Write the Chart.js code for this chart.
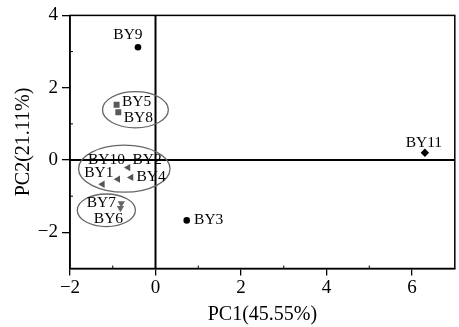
<!DOCTYPE html>
<html>
<head>
<meta charset="utf-8">
<script src="https://cdn.jsdelivr.net/npm/chart.js@4.4.1/dist/chart.umd.min.js"></script>
<style>
  html, body { margin: 0; padding: 0; background: #fff; }
  #wrap { width: 459px; height: 327px; position: relative; }
</style>
</head>
<body>
<div id="wrap"><canvas id="c" width="459" height="327"></canvas></div>
<script>
// ---- data ----
const circleNames = ['BY9', 'BY3'];
const circleX = [-0.41, 0.73];
const circleY = [3.12, -1.67];

const squareNames = ['BY5', 'BY8'];
const squareX = [-0.91, -0.87];
const squareY = [1.53, 1.32];

const leftTriNames = ['BY2', 'BY4', 'BY1', 'BY10'];
const leftTriX = [-0.64, -0.57, -0.88, -1.24];
const leftTriY = [-0.21, -0.48, -0.53, -0.67];

const downTriNames = ['BY7', 'BY6'];
const downTriX = [-0.80, -0.82];
const downTriY = [-1.20, -1.33];

const diamondNames = ['BY11'];
const diamondX = [6.30];
const diamondY = [0.20];

// group ellipses (data units)
const ellipseCx = [-0.47, -0.73, -1.15];
const ellipseCy = [1.39, -0.24, -1.39];
const ellipseRx = [0.77, 1.07, 0.68];
const ellipseRy = [0.50, 0.65, 0.45];

const xTicks = [-2, 0, 2, 4, 6];
const yTicks = [-2, 0, 2, 4];
const xMinor = [-1, 1, 3, 5];
const yMinor = [-1, 1, 3];
const xTitle = 'PC1(45.55%)';
const yTitle = 'PC2(21.11%)';

// ---- styling: label offsets (px) ----
const labelOffsets = {
  BY9: [-10, -12], BY3: [22, 0], BY5: [20, -3], BY8: [20, 6],
  BY2: [19, -8], BY4: [20, 0], BY1: [-19, -6], BY10: [4, -24],
  BY7: [-20, 0], BY6: [-12, 11], BY11: [-1, -10]
};

const SERIF = '"Liberation Serif", "Times New Roman", serif';

function pts(names, xs, ys) {
  return names.map((n, i) => ({ x: xs[i], y: ys[i], name: n }));
}

const fmt = v => (v < 0 ? '\u2212' + Math.abs(v) : String(v));

const decor = {
  id: 'decor',
  beforeDatasetsDraw(chart) {
    const { ctx, chartArea: a, scales: { x, y } } = chart;
    ctx.save();
    ctx.strokeStyle = '#000';
    // frame
    ctx.lineWidth = 1.5;
    ctx.strokeRect(a.left, a.top, a.right - a.left, a.bottom - a.top);
    // zero lines
    ctx.lineWidth = 2;
    const x0 = x.getPixelForValue(0), y0 = y.getPixelForValue(0);
    ctx.beginPath();
    ctx.moveTo(x0, a.top); ctx.lineTo(x0, a.bottom);
    ctx.moveTo(a.left, y0); ctx.lineTo(a.right, y0);
    ctx.stroke();
    // minor ticks inward
    ctx.lineWidth = 1;
    ctx.beginPath();
    xMinor.forEach(v => {
      const px = x.getPixelForValue(v);
      ctx.moveTo(px, a.bottom); ctx.lineTo(px, a.bottom - 3);
    });
    yMinor.forEach(v => {
      const py = y.getPixelForValue(v);
      ctx.moveTo(a.left, py); ctx.lineTo(a.left + 3, py);
    });
    ctx.stroke();
    // ellipses
    ctx.strokeStyle = '#666';
    ctx.lineWidth = 1.3;
    ellipseCx.forEach((cx, i) => {
      const px = x.getPixelForValue(cx), py = y.getPixelForValue(ellipseCy[i]);
      const rx = Math.abs(x.getPixelForValue(cx + ellipseRx[i]) - px);
      const ry = Math.abs(y.getPixelForValue(ellipseCy[i] + ellipseRy[i]) - py);
      ctx.beginPath();
      ctx.ellipse(px, py, rx, ry, 0, 0, Math.PI * 2);
      ctx.stroke();
    });
    ctx.restore();
  },
  afterDatasetsDraw(chart) {
    const { ctx } = chart;
    ctx.save();
    ctx.fillStyle = '#000';
    ctx.font = '15.5px ' + SERIF;
    ctx.textAlign = 'center';
    ctx.textBaseline = 'middle';
    chart.data.datasets.forEach((ds, di) => {
      const meta = chart.getDatasetMeta(di);
      meta.data.forEach((el, i) => {
        const n = ds.data[i].name;
        const off = labelOffsets[n] || [0, 0];
        ctx.fillText(n, el.x + off[0], el.y + off[1]);
      });
    });
    ctx.restore();
  }
};

new Chart(document.getElementById('c'), {
  type: 'scatter',
  data: {
    datasets: [
      { data: pts(circleNames, circleX, circleY), pointStyle: 'circle', pointRadius: 3.3,
        backgroundColor: '#000', borderColor: '#000', borderWidth: 0 },
      { data: pts(squareNames, squareX, squareY), pointStyle: 'rect', pointRadius: 4.2,
        backgroundColor: '#5a5a5a', borderColor: '#5a5a5a', borderWidth: 0 },
      { data: pts(leftTriNames, leftTriX, leftTriY), pointStyle: 'triangle', pointRadius: 4.2, rotation: 270,
        backgroundColor: '#555', borderColor: '#555', borderWidth: 0 },
      { data: pts(downTriNames, downTriX, downTriY), pointStyle: 'triangle', pointRadius: 4.2, rotation: 180,
        backgroundColor: '#666', borderColor: '#666', borderWidth: 0 },
      { data: pts(diamondNames, diamondX, diamondY), pointStyle: 'rectRot', pointRadius: 4.2,
        backgroundColor: '#000', borderColor: '#000', borderWidth: 0 }
    ]
  },
  options: {
    responsive: false,
    animation: false,
    devicePixelRatio: 1,
    layout: { padding: { top: 13, right: 2, bottom: 0, left: 0 } },
    plugins: { legend: { display: false }, tooltip: { enabled: false } },
    scales: {
      x: {
        type: 'linear', min: -2, max: 7,
        afterBuildTicks: s => { s.ticks = xTicks.map(v => ({ value: v })); },
        afterFit: s => { s.height = 58.5; },
        grid: { display: true, drawOnChartArea: false, drawTicks: true, tickLength: 7, color: '#000', lineWidth: 1.3 },
        border: { display: true, color: '#000', width: 1.5 },
        ticks: { color: '#000', font: { family: SERIF, size: 19 }, padding: 1, callback: fmt, maxRotation: 0 },
        title: { display: true, text: xTitle, color: '#000', font: { family: SERIF, size: 20 }, padding: { top: 0, bottom: 0 } }
      },
      y: {
        type: 'linear', min: -3, max: 4,
        afterBuildTicks: s => { s.ticks = yTicks.map(v => ({ value: v })); },
        afterFit: s => { s.width = 70; },
        grid: { display: true, drawOnChartArea: false, drawTicks: true, tickLength: 8, color: '#000', lineWidth: 1.3 },
        border: { display: true, color: '#000', width: 1.5 },
        ticks: { color: '#000', font: { family: SERIF, size: 19 }, padding: 4, callback: fmt },
        title: { display: true, text: yTitle, color: '#000', font: { family: SERIF, size: 20 }, padding: { top: 12, bottom: 0 } }
      }
    }
  },
  plugins: [decor]
});
</script>
</body>
</html>
